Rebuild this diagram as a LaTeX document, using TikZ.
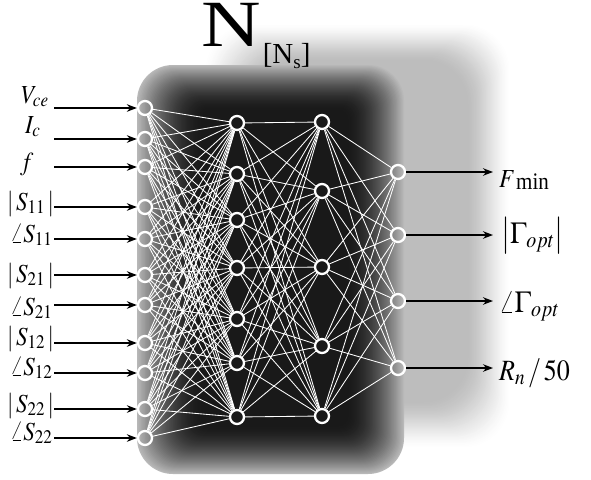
\documentclass[tikz,border=0pt]{standalone}
\usepackage{mathptmx}
\usepackage[no-math]{fontspec}
\setmainfont{Liberation Serif}
\usetikzlibrary{arrows.meta}
\newcommand{\vstr}[1]{\scalebox{1}[1.13]{#1}}
\begin{document}
\begin{tikzpicture}[x=1pt,y=-1pt,
  neuron/.style={circle,draw=white,line width=2.3pt,minimum size=14pt,inner sep=0pt},
  conn/.style={white,line width=0.85pt},
  inarrow/.style={-{Stealth[length=10pt,width=7.5pt]},line width=1.5pt,black},
  lbl/.style={anchor=base west,inner sep=0pt,font=\fontsize{23}{25}\selectfont},
  olbl/.style={anchor=base west,inner sep=0pt,font=\fontsize{27}{30}\selectfont}]
\useasboundingbox (0,0) rectangle (591,479);
\fill[white] (0,0) rectangle (591,479);
% blurred shadow
\foreach \i in {0,...,36} {
  \pgfmathsetmacro\t{\i/36}
  \pgfmathsetmacro\k{26*(0.5*\t+0.5*(3*\t*\t-2*\t*\t*\t))}
  \pgfmathsetmacro\l{205+50*\t}
  \pgfmathsetmacro\tp{24+36*\t}
  \pgfmathsetmacro\r{510-42*\t}
  \pgfmathsetmacro\b{448-46*\t}
  \fill[black!\k!white,rounded corners=45pt] (\l,\tp) rectangle (\r,\b);
}
% main box with inner gradient
\foreach \i in {0,...,48} {
  \pgfmathsetmacro\t{\i/48}
  \pgfmathsetmacro\k{28+62*(1-(1-\t)^1.7)}
  \pgfmathsetmacro\l{137+64*\t}
  \pgfmathsetmacro\tp{65+45*\t}
  \pgfmathsetmacro\r{404-56*\t}
  \pgfmathsetmacro\b{474-48*\t}
  \pgfmathsetmacro\rc{36-26*\t}
  \fill[black!\k!white,rounded corners=\rc pt] (\l,\tp) rectangle (\r,\b);
}
% neurons
\foreach \n/\y in {1/108,2/139,3/167,4/207,5/239,6/275,7/305,8/343,9/373,10/409,11/438} {
  \node[neuron] (in\n) at (145,\y) {};
  \coordinate (s\n) at (54,\y);
}
\foreach \n/\y in {1/123,2/174,3/220,4/268,5/319,6/363,7/417}
  \node[neuron] (a\n) at (237,\y) {};
\foreach \n/\y in {1/122,2/191,3/267,4/346,5/416}
  \node[neuron] (b\n) at (322,\y) {};
\foreach \n/\y in {1/172,2/235,3/301,4/368} {
  \node[neuron] (o\n) at (398,\y) {};
  \coordinate (e\n) at (493,\y);
}
% connections
\foreach \i in {1,...,11} \foreach \j in {1,...,7} \draw[conn] (in\i) -- (a\j);
\foreach \i in {1,...,7} \foreach \j in {1,...,5} \draw[conn] (a\i) -- (b\j);
\foreach \i in {1,...,5} \foreach \j in {1,...,4} \draw[conn] (b\i) -- (o\j);
% arrows
\foreach \i in {1,...,11} \draw[inarrow] (s\i) -- (in\i);
\foreach \j in {1,...,4} \draw[inarrow] (o\j) -- (e\j);
% input labels
\node[lbl] (L1) at (21,103) {\vstr{$V_{ce}$}};
\node[lbl] (L2) at (25,133) {\vstr{$I_{c}$}};
\node[lbl] (L3) at (20,170) {\vstr{$f$}};
\node[lbl] (L4) at (7,210) {\vstr{$|\,S_{11}\,|$}};
\node[lbl] (L5) at (10,242) {\vstr{$\angle S_{11}$}};
\node[lbl] (L6) at (7,282) {\vstr{$|\,S_{21}\,|$}};
\node[lbl] (L7) at (10,315) {\vstr{$\angle S_{21}$}};
\node[lbl] (L8) at (7,345) {\vstr{$|\,S_{12}\,|$}};
\node[lbl] (L9) at (10,375) {\vstr{$\angle S_{12}$}};
\node[lbl] (L10) at (7,412) {\vstr{$|\,S_{22}\,|$}};
\node[lbl] (L11) at (10,440) {\vstr{$\angle S_{22}$}};
% output labels
\node[olbl,font=\fontsize{23}{26}\selectfont] (R1) at (499,187)
  {\vstr{$F$\kern1pt\raisebox{-2pt}{\fontsize{21}{22}\selectfont min}}};
\node[olbl] (R2) at (501,243) {\vstr{$\bigl|\Gamma_{opt}\bigr|$}};
\node[olbl] (R3) at (499,312) {\vstr{$\angle\Gamma_{opt}$}};
\node[olbl,font=\fontsize{26}{30}\selectfont] (R4) at (499,380) {\vstr{$R_n\,/\,50$}};
% title
\node[anchor=base west,inner sep=0pt] (T) at (201,46)
  {\fontsize{66}{70}\selectfont\scalebox{1.25}[1]{N}\kern2pt\raisebox{-17pt}{\fontsize{29}{30}\selectfont [N\raisebox{-5pt}{\fontsize{19}{20}\selectfont s}]}};
\end{tikzpicture}
\end{document}
